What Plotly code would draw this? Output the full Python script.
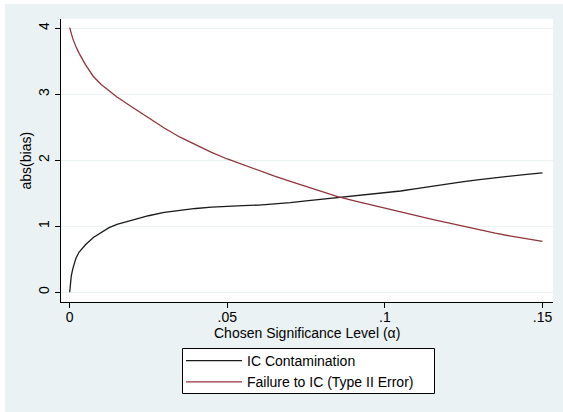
import plotly.graph_objects as go

alpha = [0, 0.0005, 0.001, 0.002, 0.003, 0.005, 0.0075, 0.01, 0.0125, 0.015,
         0.02, 0.025, 0.03, 0.035, 0.04, 0.045, 0.05, 0.055, 0.06, 0.065,
         0.07, 0.075, 0.08, 0.085, 0.09, 0.095, 0.1, 0.105, 0.11, 0.115,
         0.12, 0.125, 0.13, 0.135, 0.14, 0.145, 0.15]

ic_contamination = [0, 0.25, 0.36, 0.52, 0.61, 0.72, 0.83, 0.91, 0.98, 1.03,
                    1.10, 1.16, 1.21, 1.245, 1.27, 1.29, 1.305, 1.312, 1.322, 1.337,
                    1.36, 1.385, 1.41, 1.43, 1.455, 1.48, 1.505, 1.535, 1.572, 1.61,
                    1.645, 1.677, 1.708, 1.737, 1.762, 1.787, 1.81]

failure_to_ic = [4.01, 3.92, 3.84, 3.72, 3.62, 3.45, 3.27, 3.15, 3.05, 2.96,
                 2.80, 2.64, 2.49, 2.35, 2.23, 2.12, 2.02, 1.93, 1.84, 1.76,
                 1.68, 1.60, 1.52, 1.45, 1.39, 1.33, 1.28, 1.22, 1.16, 1.105,
                 1.05, 0.995, 0.94, 0.895, 0.85, 0.81, 0.77]

x_tickvals = [0, 0.05, 0.1, 0.15]
x_ticktext = ["0", ".05", ".1", ".15"]
y_tickvals = [0, 1, 2, 3, 4]
y_ticktext = ["0", "1", "2", "3", "4"]

series_names = ["IC Contamination", "Failure to IC (Type II Error)"]
series_colors = ["#1A1A1A", "#90353B"]

BG = "#EAF2F3"
FONT = "Liberation Sans, Arial, Helvetica, sans-serif"

# plot area in pixels: x 61..553, y 19..302
PW, PH = 492, 283


def px_x(p):
    return (p - 61) / PW


def px_y(p):
    return (302 - p) / PH


fig = go.Figure()
for name, vals, col in zip(series_names, [ic_contamination, failure_to_ic], series_colors):
    fig.add_trace(go.Scatter(x=alpha, y=vals, mode="lines", name=name,
                             line=dict(color=col, width=1.3)))

fig.update_layout(
    width=563, height=412,
    margin=dict(l=61, r=10, t=19, b=110),
    paper_bgcolor=BG, plot_bgcolor="white",
    font=dict(family=FONT, size=14, color="black"),
    showlegend=True,
    legend=dict(x=px_x(181), xanchor="left", y=px_y(345), yanchor="top",
                bgcolor="rgba(0,0,0,0)", borderwidth=0,
                font=dict(size=14), itemwidth=56, tracegroupgap=0),
    xaxis=dict(range=[-0.00276, 0.15333], tickvals=x_tickvals, ticktext=x_ticktext,
               showgrid=False, zeroline=False, showline=True, linecolor="black", linewidth=1,
               ticks="outside", ticklen=5, tickcolor="black", tickfont=dict(size=14),
               ticklabelstandoff=-3),
    yaxis=dict(range=[-0.147, 4.141], tickvals=y_tickvals, ticktext=y_ticktext,
               showgrid=True, gridcolor=BG, gridwidth=1, zeroline=False,
               showline=True, linecolor="black", linewidth=1,
               ticks="outside", ticklen=5, tickcolor="black", tickangle=-90,
               tickfont=dict(size=14)),
    annotations=[
        dict(text="Chosen Significance Level (α)", xref="paper", yref="paper",
             x=0.5, y=px_y(323), xanchor="center", yanchor="top", showarrow=False,
             font=dict(size=14)),
        dict(text="abs(bias)", xref="paper", yref="paper",
             x=px_x(25), y=0.5, xanchor="center", yanchor="middle",
             textangle=-90, showarrow=False, font=dict(size=14)),
    ],
    shapes=[
        dict(type="rect", xref="paper", yref="paper", layer="above",
             x0=px_x(0), x1=px_x(5), y0=px_y(412), y1=px_y(0),
             fillcolor="white", line=dict(width=0)),
        dict(type="rect", xref="paper", yref="paper", layer="above",
             x0=px_x(0), x1=px_x(563), y0=px_y(4), y1=px_y(0),
             fillcolor="white", line=dict(width=0)),
        dict(type="rect", xref="paper", yref="paper", layer="above",
             x0=px_x(182.5), x1=px_x(434.5), y0=px_y(393.5), y1=px_y(348.5),
             fillcolor="white", line=dict(color="black", width=1)),
    ],
)

fig.write_html("out.html", config={"displayModeBar": False},
               post_script="document.body.style.margin='0';")
